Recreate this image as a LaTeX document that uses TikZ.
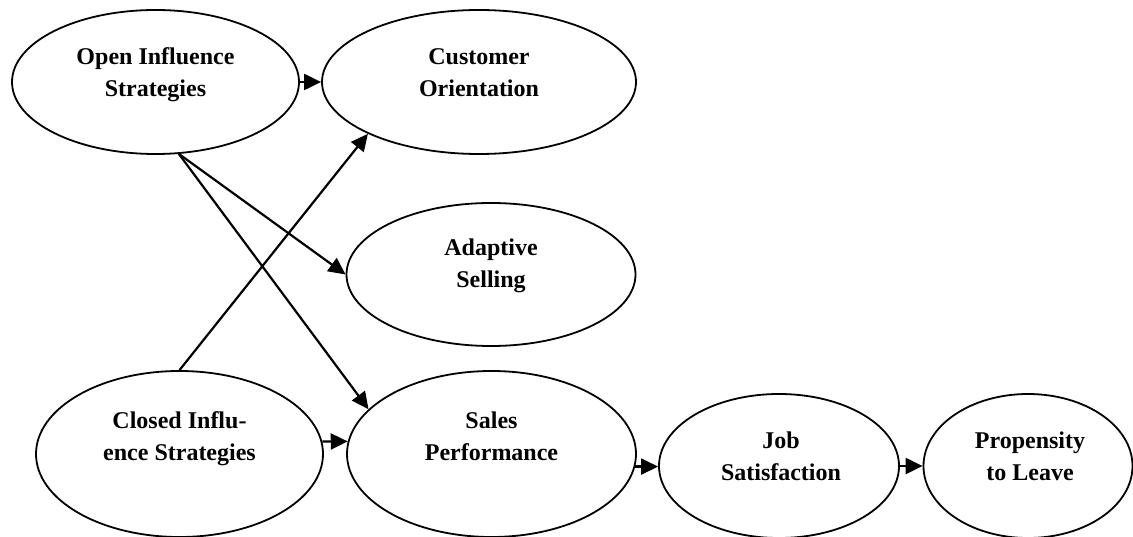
\documentclass[tikz,border=0pt]{standalone}
\usepackage{fontspec}
\setmainfont{Liberation Serif}
\usetikzlibrary{arrows.meta,shapes.geometric}
\begin{document}
\begin{tikzpicture}[x=1pt,y=-1pt,
  ell/.style={draw, ellipse, line width=1.8pt, inner sep=0pt},
  lbl/.style={align=center, anchor=base, inner sep=0pt,
    font=\fontsize{24}{32}\selectfont\bfseries},
  conn/.style={line width=2.2pt, -{Triangle[length=17pt,width=16pt]}}]
\useasboundingbox (0,0) rectangle (1133,537);
\node[ell, minimum width=287pt, minimum height=144pt] (open) at (155.5,82) {};
\node[ell, minimum width=314pt, minimum height=144pt] (cust) at (479,82) {};
\node[ell, minimum width=289pt, minimum height=143pt] (adapt) at (491,274.5) {};
\node[ell, minimum width=287pt, minimum height=166pt] (closed) at (179.5,454) {};
\node[ell, minimum width=289pt, minimum height=166pt] (sales) at (491.5,454) {};
\node[ell, minimum width=240pt, minimum height=144pt] (job) at (779,466) {};
\node[ell, minimum width=209pt, minimum height=144pt] (prop) at (1028,466) {};

\node[lbl] (topen) at (155.5,97) {Open Influence\\Strategies};
\node[lbl] (tcust) at (479,97) {Customer\\Orientation};
\node[lbl] (tadapt) at (491,288) {Adaptive\\Selling};
\node[lbl] (tclosed) at (179.5,460) {Closed Influ-\\ence Strategies};
\node[lbl] (tsales) at (491.5,460) {Sales\\Performance};
\node[lbl] (tjob) at (781,480) {Job\\Satisfaction};
\node[lbl] (tprop) at (1030,480) {Propensity\\to Leave};

\draw[conn] (open.east) -- (cust.west);
\draw[conn] (open.-72) -- (adapt.west);
\draw[conn] (open.-72) -- (sales.160);
\draw[conn] (closed.north) -- (cust.205);
\draw[conn] (closed.5) -- (sales.175);
\draw[conn] (sales.-5) -- (sales.-5 -| job.west);
\draw[conn] (job.east) -- (prop.west);
\end{tikzpicture}
\end{document}
